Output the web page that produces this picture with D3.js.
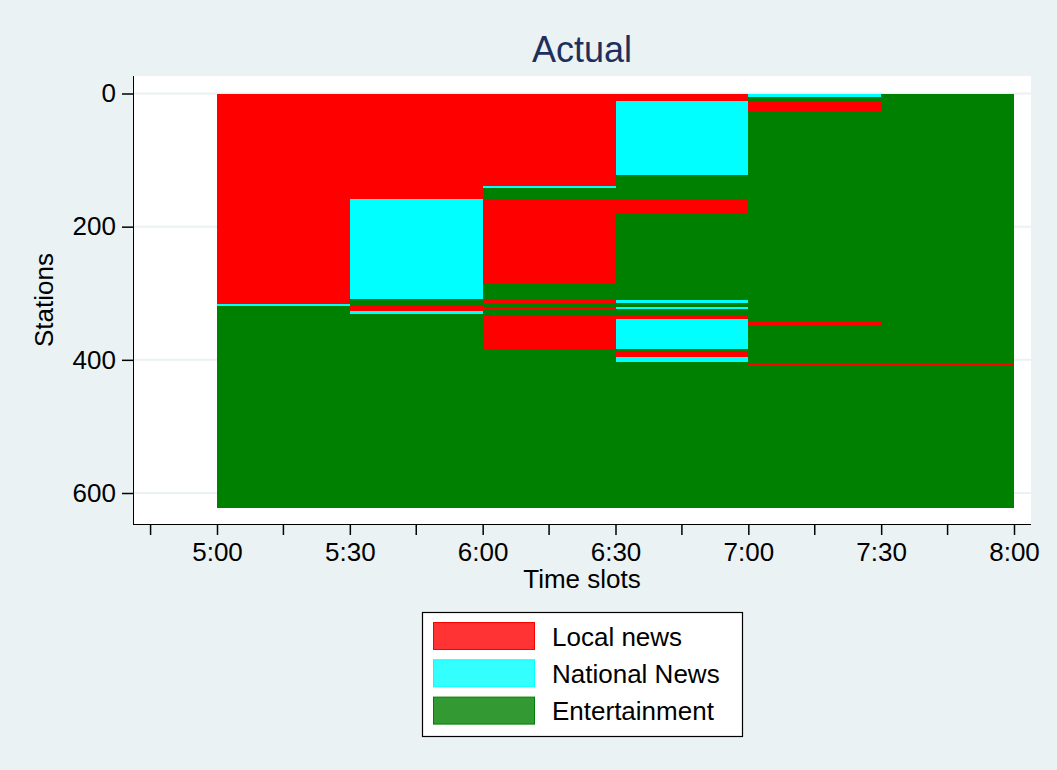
<!DOCTYPE html>
<html>
<head>
<meta charset="utf-8">
<script src="https://cdn.jsdelivr.net/npm/d3@7"></script>
<style>
  body { margin: 0; background: #eaf2f3; }
  svg { display: block; font-family: "Liberation Sans", Arial, sans-serif; }
  .axis path, .axis line { stroke: #000; }
  .axis text { font-size: 26px; fill: #000; }
  .bar { shape-rendering: crispEdges; }
</style>
</head>
<body>
<div id="chart"></div>
<script>
// time slots (minutes after midnight) and their labels
var slotStarts = [300, 330, 360, 390, 420, 450];
var slotLength = 30;
var tickMinutes = [300, 330, 360, 390, 420, 450, 480];
var tickLabels = ["5:00", "5:30", "6:00", "6:30", "7:00", "7:30", "8:00"];
var minorTicks = [285, 315, 345, 375, 405, 435, 465];
var yTicks = [0, 200, 400, 600];

var categories = ["Local news", "National News", "Entertainment"];
var colors = ["#ff0000", "#00ffff", "#008000"];

// station ranges per slot: [from, to, category index]
var slot500 = [[0, 316, 0], [316, 319, 1], [319, 623, 2]];
var slot530 = [[0, 158, 0], [158, 309, 1], [309, 319, 2], [319, 326, 0], [326, 331, 1], [331, 623, 2]];
var slot600 = [[0, 138.5, 0], [138.5, 141.5, 1], [141.5, 159, 2], [159, 286, 0], [286, 310, 2], [310, 315, 0],
               [315, 320, 2], [320, 324, 0], [324, 334, 2], [334, 385, 0], [385, 623, 2]];
var slot630 = [[0, 11, 0], [11, 122, 1], [122, 159, 2], [159, 181, 0], [181, 310, 2], [310, 315, 1],
               [315, 321, 2], [321, 324, 1], [324, 334, 2], [334, 339, 0], [339, 384, 1], [384, 387, 2],
               [387, 395, 0], [395, 403, 1], [403, 623, 2]];
var slot700 = [[0, 6, 1], [6, 12, 2], [12, 27, 0], [27, 342, 2], [342, 348, 0], [348, 405, 2],
               [405, 409, 0], [409, 623, 2]];
var slot730 = [[0, 405, 2], [405, 408, 0], [408, 623, 2]];
var slotSegments = [slot500, slot530, slot600, slot630, slot700, slot730];

var W = 1057, H = 770;
var margin = { top: 76, left: 133, right: 26, bottom: 246 };
var width = W - margin.left - margin.right;   // 898
var height = H - margin.top - margin.bottom;  // 448

var svg = d3.select("#chart").append("svg")
  .attr("width", W)
  .attr("height", H);

svg.append("rect").attr("width", W).attr("height", H).attr("fill", "#eaf2f3");

var g = svg.append("g")
  .attr("transform", "translate(" + margin.left + "," + margin.top + ")");

g.append("rect").attr("width", width).attr("height", height).attr("fill", "#fff");

var xScale = d3.scaleLinear().domain([300, 480]).range([84, 881]);
var yScale = d3.scaleLinear().domain([0, 600]).range([17.5, 417]);

// gridlines
g.selectAll(".grid")
  .data(yTicks)
  .enter().append("line")
  .attr("x1", 0).attr("x2", width)
  .attr("y1", function (d) { return yScale(d); })
  .attr("y2", function (d) { return yScale(d); })
  .attr("stroke", "#eaf2f3")
  .attr("stroke-width", 2);

// bars
var rects = [];
slotSegments.forEach(function (segs, i) {
  segs.forEach(function (s) {
    rects.push({ t0: slotStarts[i], t1: slotStarts[i] + slotLength, s0: s[0], s1: s[1], c: s[2] });
  });
});

g.selectAll(".bar")
  .data(rects)
  .enter().append("rect")
  .attr("class", "bar")
  .attr("x", function (d) { return xScale(d.t0); })
  .attr("width", function (d) { return xScale(d.t1) - xScale(d.t0); })
  .attr("y", function (d) { return yScale(d.s0); })
  .attr("height", function (d) { return yScale(d.s1) - yScale(d.s0); })
  .attr("fill", function (d) { return colors[d.c]; });

// y axis
var yAxis = g.append("g")
  .attr("class", "axis")
  .call(d3.axisLeft(yScale).tickValues(yTicks).tickSize(11).tickPadding(6));
yAxis.select(".domain").attr("d", "M0.5,0V" + height);
yAxis.selectAll("line").attr("stroke-width", 1.5);

// x axis
var xAxis = g.append("g")
  .attr("class", "axis")
  .attr("transform", "translate(0," + height + ")")
  .call(d3.axisBottom(xScale).tickValues(tickMinutes)
    .tickFormat(function (d, i) { return tickLabels[i]; })
    .tickSize(11).tickPadding(8));
xAxis.select(".domain").attr("d", "M0,0.5H" + width);
xAxis.selectAll("line").attr("stroke-width", 1.5);

xAxis.selectAll(".minor")
  .data(minorTicks)
  .enter().append("line")
  .attr("class", "minor")
  .attr("x1", function (d) { return xScale(d); })
  .attr("x2", function (d) { return xScale(d); })
  .attr("y1", 0).attr("y2", 11)
  .attr("stroke", "#000")
  .attr("stroke-width", 1.5);

// titles
svg.append("text")
  .attr("x", margin.left + width / 2).attr("y", 62)
  .attr("text-anchor", "middle")
  .attr("font-size", 36)
  .attr("fill", "#1e2f5e")
  .text("Actual");

svg.append("text")
  .attr("x", margin.left + width / 2).attr("y", 588)
  .attr("text-anchor", "middle")
  .attr("font-size", 26)
  .text("Time slots");

svg.append("text")
  .attr("transform", "translate(53," + (margin.top + height / 2) + ") rotate(-90)")
  .attr("text-anchor", "middle")
  .attr("font-size", 26)
  .text("Stations");

// legend
var legend = svg.append("g").attr("transform", "translate(422,612)");
legend.append("rect")
  .attr("x", 0.5).attr("y", 0.5)
  .attr("width", 320).attr("height", 124)
  .attr("fill", "#fff").attr("stroke", "#000").attr("stroke-width", 1.2);

var item = legend.selectAll(".item")
  .data(categories)
  .enter().append("g")
  .attr("transform", function (d, i) { return "translate(0," + (i * 37.3) + ")"; });

item.append("rect")
  .attr("x", 11.5).attr("y", 10.5)
  .attr("width", 101).attr("height", 27)
  .attr("fill", function (d, i) { return colors[i]; })
  .attr("fill-opacity", 0.8)
  .attr("stroke", function (d, i) { return colors[i]; });

item.append("text")
  .attr("x", 130).attr("y", 33.5)
  .attr("font-size", 26)
  .text(function (d) { return d; });
</script>
</body>
</html>
